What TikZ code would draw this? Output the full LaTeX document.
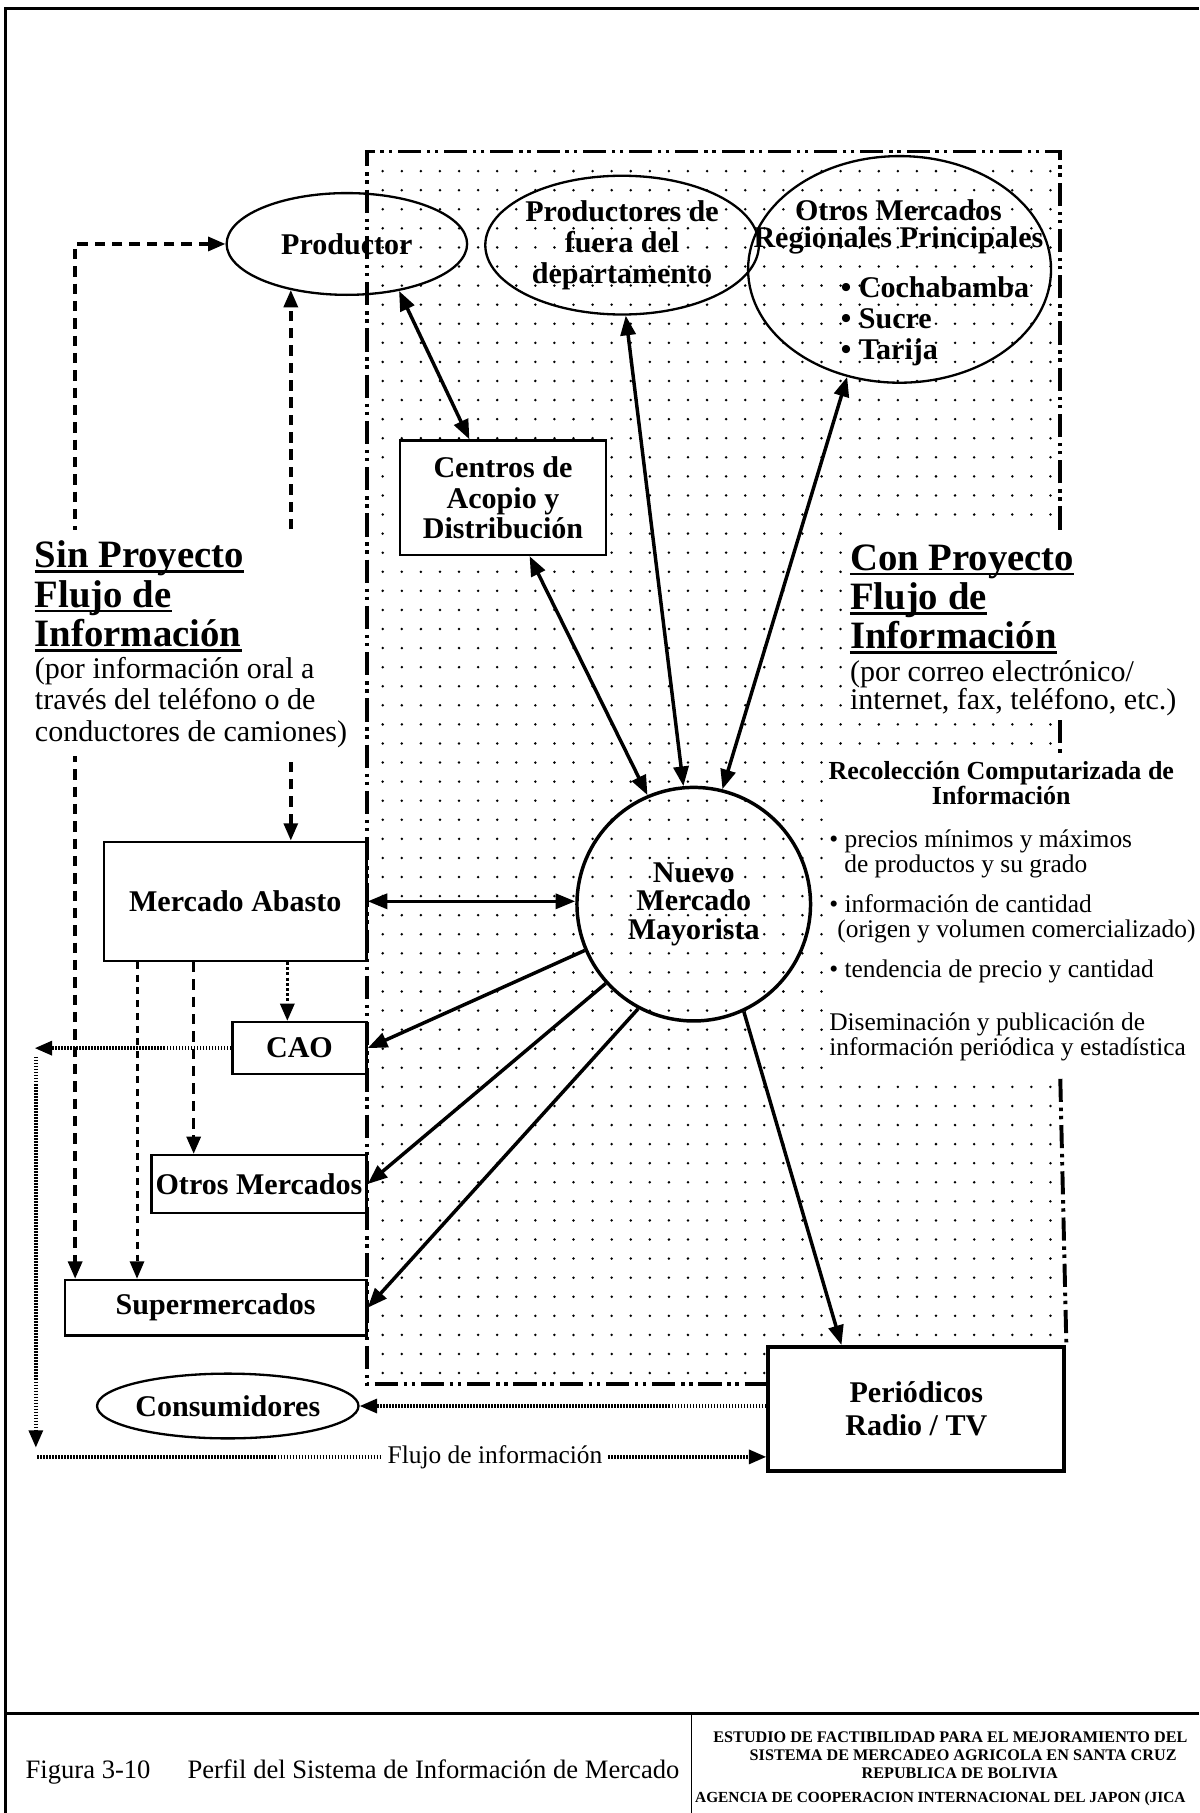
\documentclass[tikz,border=0pt]{standalone}
\usepackage{fontspec}
\setmainfont{Liberation Serif}
\usetikzlibrary{arrows.meta,shapes.geometric}

\newcommand\fNode{\fontsize{26}{26.5}\selectfont\bfseries}
\newcommand\fHead{\fontsize{33.5}{34}\selectfont\bfseries}
\newcommand\fNote{\fontsize{26}{27}\selectfont}
\newcommand\fList{\fontsize{22}{22}\selectfont}
\newcommand\fListB{\fontsize{22.5}{22}\selectfont\bfseries}
\newcommand\fCap{\fontsize{23}{24}\selectfont}
\newcommand\fJica{\fontsize{14}{15}\selectfont\bfseries}

\tikzset{
  box/.style={draw, line width=2pt, rectangle, inner sep=0pt, font=\fNode, align=center},
  oval/.style={draw, line width=2pt, ellipse, inner sep=0pt, font=\fNode, align=center},
  txt/.style={inner sep=0pt, anchor=base west},
  sarr/.style={line width=3pt, >={Triangle[length=17pt,width=13pt]}},
  dsh/.style={line width=3pt, dash pattern=on 9pt off 6pt, >={Triangle[length=15pt,width=12pt]}},
  dshfine/.style={line width=2.6pt, dash pattern=on 6pt off 5pt, >={Triangle[length=15pt,width=12pt]}},
  dtt/.style={line width=3pt, dash pattern=on 2.5pt off 2pt, >={Triangle[length=15pt,width=12pt]}},
  fdot/.style={line width=3pt, dash pattern=on 1.4pt off 1.2pt, >={Triangle[length=15pt,width=12pt]}},
  bord/.style={line width=3.4pt, dash pattern=on 20pt off 5pt on 3pt off 4pt on 3pt off 5pt},
  uline/.style={line width=2.2pt}
}

\begin{document}
\begin{tikzpicture}[x=1pt,y=1pt]
\useasboundingbox (0,0) rectangle (1037,-1568);

% page frame and title block
\draw[line width=2.5pt] (5,-1568) -- (5,-7) -- (1037,-7);
\draw[line width=2.5pt] (5,-1482) -- (1037,-1482);
\draw[line width=1.5pt] (598,-1482) -- (598,-1568);

% dotted screen of the project area
\foreach \i in {0,...,35}
  \foreach \j in {0,...,63}
    \fill (331+16.5*\i, -148-16.5*\j) circle (1.2pt);

% clear areas behind the right-hand text blocks
\fill[white] (729,-452) rectangle (1037,-619);
\fill[white] (713,-652) rectangle (1037,-931);

% nodes
\node[oval, minimum width=208pt, minimum height=88pt] (prod) at (300,-211) {Productor};
\node[oval, minimum width=208pt, minimum height=120pt, font=\fontsize{26}{27}\selectfont\bfseries] (prodf) at (538,-212) {Productores de\\fuera del\\departamento};
\node[oval, minimum width=262pt, minimum height=196pt] (otrosr) at (778,-233) {};
\node[font=\fNode] (or1) at (777,-182) {Otros Mercados};
\node[font=\fNode] (or2) at (777,-208) {Regionales Principales};
\node[txt, font=\fNode] (or3) at (727,-257) {• Cochabamba};
\node[txt, font=\fNode] (or4) at (727,-284) {• Sucre};
\node[txt, font=\fNode] (or5) at (727,-311) {• Tarija};

\node[box, minimum width=178pt, minimum height=99pt, fill=white] (centros) at (435,-430.5) {Centros de\\Acopio y\\Distribución};
\node[circle, draw, line width=3pt, minimum size=202pt, inner sep=0pt, align=center, font=\fontsize{26}{24.5}\selectfont\bfseries] (nuevo) at (600,-782) {Nuevo\\Mercado\\Mayorista};

\node[box, minimum width=227pt, minimum height=103pt, fill=white] (abasto) at (203.5,-779.5) {Mercado Abasto};
\node[box, minimum width=116pt, minimum height=45pt, fill=white] (cao) at (259,-906.5) {CAO};
\node[box, minimum width=186pt, minimum height=50pt, fill=white] (otrosm) at (224,-1024) {Otros Mercados};
\node[box, minimum width=261pt, minimum height=48pt, fill=white] (super) at (186.5,-1131) {Supermercados};
\node[oval, minimum width=207pt, minimum height=56pt] (cons) at (197,-1216) {Consumidores};
\node[box, line width=3.5pt, minimum width=256pt, minimum height=107pt, fill=white, font=\fontsize{26}{28}\selectfont\bfseries] (peri) at (792.5,-1218.5) {Periódicos\\Radio / TV};

% boundary of the project area
\draw[bord] (917,-458) -- (917,-131) -- (317,-131) -- (317,-1197) -- (peri.west |- 0,-1197);
\draw[bord] (917,-623) -- (917,-651);
\draw[bord] (917,-933) -- (peri.north east);

% flows with the new wholesale market
\draw[sarr,<->] (prod.-42) -- ([xshift=-29pt]centros.north);
\draw[sarr,<->] ([xshift=23pt]centros.south) -- (nuevo.113);
\draw[sarr,<->] (prodf.-87) -- (nuevo.95);
\draw[sarr,<->] (otrosr.-116) -- (nuevo.76);
\draw[sarr,<->] (abasto.east) -- (abasto.east -| nuevo.west);
\draw[sarr,->] (nuevo.203) -- (cao.east);
\draw[sarr,->] (nuevo.222) -- (otrosm.east);
\draw[sarr,->] (nuevo.242) -- (super.east);
\draw[sarr,->] (nuevo.-65) -- ([xshift=65pt]peri.north west);

% flows without the project
\draw[dsh,<->] (prod.west) -| ([xshift=10pt]super.north west);
\draw[dsh,<->] ([xshift=48pt]abasto.north) -- ([xshift=48pt]abasto.north |- prod.-141);
\draw[dshfine,->] ([xshift=-85pt]abasto.south) -- ([xshift=-85pt]abasto.south |- super.north);
\draw[dsh,->] ([xshift=-36pt]abasto.south) -- ([xshift=-36pt]abasto.south |- otrosm.north);
\draw[dtt,->] ([xshift=45pt]abasto.south) -- ([xshift=45pt]abasto.south |- cao.north);

% information flow to the media
\coordinate (cl) at (30,-907);
\coordinate (vt) at (31,-914);
\coordinate (vb) at (31,-1252);
\coordinate (fl) at (32,-1260);
\draw[fdot,->] (cao.west) -- (cao.west -| cl);
\draw[fdot,->] (vt) -- (vb);
\draw[fdot,->] (fl) -- (fl -| peri.west) node[pos=0.628, fill=white, inner sep=4pt, font=\fontsize{22}{23}\selectfont] (flt) {Flujo de información};
\draw[fdot,->] (peri.west |- cons.east) -- (cons.east);

% left-hand legend
\fill[white] (24,-458) rectangle (310,-654);
\node[txt, font=\fHead] (sin1) at (30,-491) {Sin Proyecto};
\node[txt, font=\fHead] (sin2) at (30,-525) {Flujo de};
\node[txt, font=\fHead] (sin3) at (30,-559) {Información};
\draw[uline] ([yshift=-3.5pt]sin1.base west) -- ([yshift=-3.5pt]sin1.base east);
\draw[uline] ([yshift=-3.5pt]sin2.base west) -- ([yshift=-3.5pt]sin2.base east);
\draw[uline] ([yshift=-3.5pt]sin3.base west) -- ([yshift=-3.5pt]sin3.base east);
\node[txt, font=\fNote] (sin4) at (30,-587) {(por información oral a};
\node[txt, font=\fNote] (sin5) at (30,-614) {través del teléfono o de};
\node[txt, font=\fNote] (sin6) at (30,-641) {conductores de camiones)};

% right-hand legend
\node[txt, font=\fHead] (con1) at (735,-493) {Con Proyecto};
\node[txt, font=\fHead] (con2) at (735,-527) {Flujo de};
\node[txt, font=\fHead] (con3) at (735,-561) {Información};
\draw[uline] ([yshift=-3.5pt]con1.base west) -- ([yshift=-3.5pt]con1.base east);
\draw[uline] ([yshift=-3.5pt]con2.base west) -- ([yshift=-3.5pt]con2.base east);
\draw[uline] ([yshift=-3.5pt]con3.base west) -- ([yshift=-3.5pt]con3.base east);
\node[txt, font=\fNote] (con4) at (735,-589) {(por correo electrónico/};
\node[txt, font=\fNote] (con5) at (735,-614) {internet, fax, teléfono, etc.)};

\node[inner sep=0pt, anchor=base, font=\fListB] (rec1) at (866,-674) {Recolección Computarizada de};
\node[inner sep=0pt, anchor=base, font=\fListB] (rec2) at (866,-696) {Información};
\node[txt, font=\fList] (it1) at (717,-733) {• precios mínimos y máximos};
\node[txt, font=\fList] (it2) at (730,-755) {de productos y su grado};
\node[txt, font=\fList] (it3) at (717,-789) {• información de cantidad};
\node[txt, font=\fList] (it4) at (724,-811) {(origen y volumen comercializado)};
\node[txt, font=\fList] (it5) at (717,-845) {• tendencia de precio y cantidad};
\node[txt, font=\fList] (dis1) at (717,-891) {Diseminación y publicación de};
\node[txt, font=\fList] (dis2) at (717,-913) {información periódica y estadística};

% title block
\node[txt, font=\fCap] (fig) at (22,-1538) {Figura 3-10};
\node[txt, font=\fCap] (figt) at (162,-1538) {Perfil del Sistema de Información de Mercado};
\node[inner sep=0pt, anchor=base, font=\fJica] (j1) at (822,-1507) {ESTUDIO DE FACTIBILIDAD PARA EL MEJORAMIENTO DEL};
\node[inner sep=0pt, anchor=base, font=\fJica] (j2) at (833,-1523) {SISTEMA DE MERCADEO AGRICOLA EN SANTA CRUZ};
\node[inner sep=0pt, anchor=base, font=\fJica] (j3) at (830,-1538) {REPUBLICA DE BOLIVIA};
\node[txt, font=\fontsize{13.3}{15}\selectfont\bfseries] (j4) at (601,-1559) {AGENCIA DE COOPERACION INTERNACIONAL DEL JAPON (JICA};
\end{tikzpicture}
\end{document}
